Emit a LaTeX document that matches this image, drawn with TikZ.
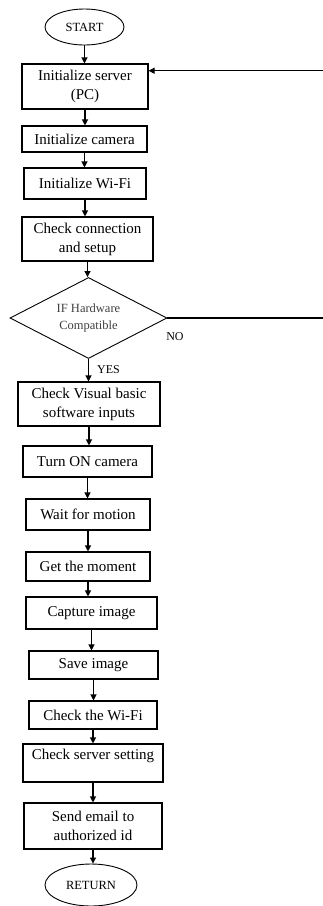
\documentclass[tikz,border=0pt]{standalone}
\usepackage{fontspec}
\setmainfont{Liberation Serif}
\usetikzlibrary{shapes.geometric,arrows.meta}
\begin{document}
\begin{tikzpicture}[x=1pt,y=-1pt,
  box/.style={draw,line width=1.1pt,rectangle,inner sep=0pt,align=center,
    font=\fontsize{15}{19}\selectfont},
  term/.style={draw,line width=0.9pt,ellipse,inner sep=0pt,
    font=\fontsize{12.5}{14}\selectfont},
  decis/.style={draw,line width=0.9pt,diamond,aspect=2,inner sep=0pt,align=center,
    font=\fontsize{12.5}{17}\selectfont,text=black!75},
  lbl/.style={inner sep=0pt,font=\fontsize{12}{14}\selectfont},
  arr/.style={line width=1.1pt,-{Triangle[length=6pt,width=6pt]}}]
\useasboundingbox (0,0) rectangle (323,906);
\node[term,minimum width=79pt,minimum height=36pt] (start) at (84.5,27) {START};
\node[box,minimum width=126pt,minimum height=45pt] (b1) at (85,86.5) {Initialize server\\(PC)};
\node[box,minimum width=125pt,minimum height=26pt] (b2) at (84.5,139) {Initialize camera};
\node[box,minimum width=122pt,minimum height=31pt] (b3) at (85,183.5) {Initialize Wi-Fi};
\node[box,minimum width=131pt,minimum height=44pt] (b4) at (87.5,239) {Check connection\\and setup};
\node[decis,minimum width=157pt,minimum height=81pt] (dec) at (88.5,318) {IF Hardware\\Compatible};
\node[lbl] (no) at (175,337) {NO};
\node[lbl] (yes) at (108.5,369.5) {YES};
\node[box,minimum width=142pt,minimum height=44pt] (b5) at (89,404) {Check Visual basic\\software inputs};
\node[box,minimum width=129pt,minimum height=31pt] (b6) at (87.5,461.5) {Turn ON camera};
\node[box,minimum width=124pt,minimum height=31pt] (b7) at (88,514.5) {Wait for motion};
\node[box,minimum width=124pt,minimum height=29pt] (b8) at (88,566.5) {Get the moment};
\node[box,minimum width=131pt,minimum height=32pt] (b9) at (91.5,613) {Capture image};
\node[box,minimum width=129pt,minimum height=28pt] (b10) at (93.5,665) {Save image};
\node[box,minimum width=128pt,minimum height=28pt] (b11) at (93,715) {Check the Wi-Fi};
\node[box,minimum width=140pt,minimum height=38pt] (b12) at (93,763) {Check server setting\\[-2pt]~};
\node[box,minimum width=138pt,minimum height=46pt] (b13) at (93,826) {Send email to\\authorized id};
\node[term,minimum width=92pt,minimum height=42pt] (ret) at (91,885) {RETURN};
\coordinate (loopR) at (325,70.7);
\draw[arr] (start.south) -- (start.south |- b1.north);
\draw[arr] (b1.south) -- (b1.south |- b2.north);
\draw[arr] (b2.south) -- (b2.south |- b3.north);
\draw[arr] (b3.south) -- (b3.south |- b4.north);
\draw[arr] (b4.south) -- (b4.south |- dec.north);
\draw[arr] (dec.south) -- (dec.south |- b5.north);
\draw[arr] (b5.south) -- (b5.south |- b6.north);
\draw[arr] (b6.south) -- (b6.south |- b7.north);
\draw[arr] (b7.south) -- (b7.south |- b8.north);
\draw[arr] (b8.south) -- (b8.south |- b9.north);
\draw[arr] (b9.south) -- (b9.south |- b10.north);
\draw[arr] (b10.south) -- (b10.south |- b11.north);
\draw[arr] (b11.south) -- (b11.south |- b12.north);
\draw[arr] (b12.south) -- (b12.south |- b13.north);
\draw[arr] (b13.south) -- (b13.south |- ret.north);
\draw[arr] (dec.east) -- (dec.east -| loopR) -- (loopR) -- (b1.east |- loopR);
\end{tikzpicture}
\end{document}
